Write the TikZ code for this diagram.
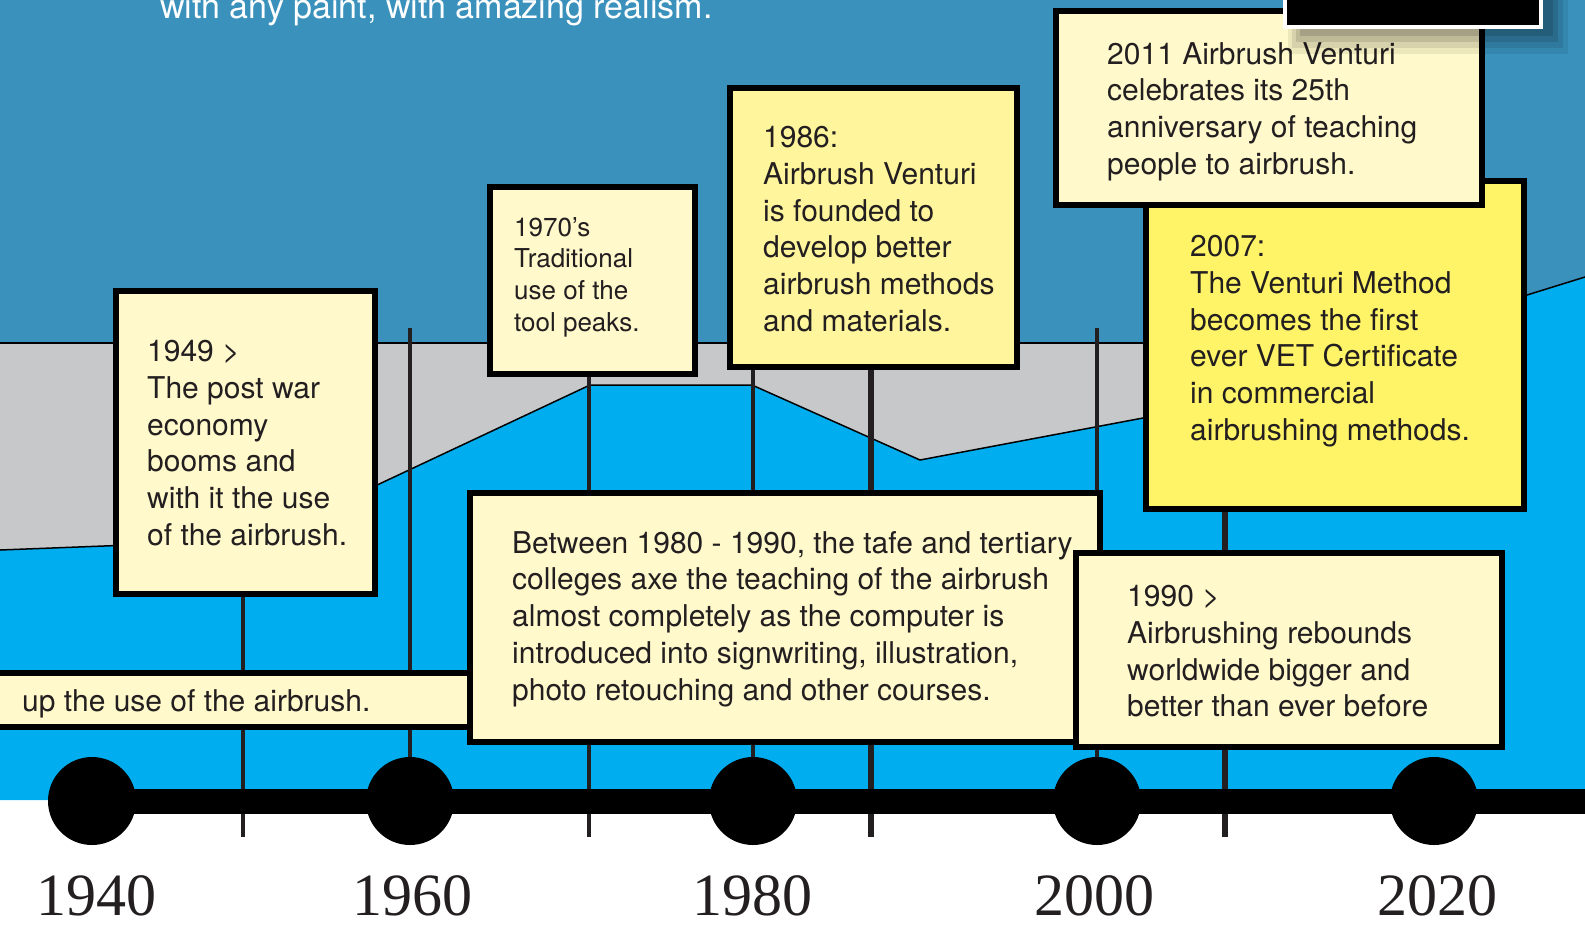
\documentclass[tikz,border=0pt]{standalone}
\usepackage{fontspec}
\setmainfont{TeX Gyre Heros}
\newfontfamily\yearfont{Liberation Serif}
\definecolor{steelbg}{HTML}{3A91BC}
\definecolor{brightblue}{HTML}{00AEEF}
\definecolor{bandgray}{HTML}{C7C8CA}
\definecolor{cream}{HTML}{FFF9CB}
\definecolor{lightyellow}{HTML}{FFF59C}
\definecolor{strongyellow}{HTML}{FFF468}
\definecolor{textdark}{HTML}{231F20}
\tikzset{
  evbox/.style={draw=black, line width=6pt, anchor=north west, inner sep=0pt, outer sep=3pt, fill=cream},
  evtext/.style={anchor=north west, inner sep=0pt, align=left, text=textdark, font=\fontsize{30}{36.8}\selectfont},
  smalltext/.style={anchor=north west, inner sep=0pt, align=left, text=textdark, font=\fontsize{26}{31.7}\selectfont},
  yearlbl/.style={anchor=base, inner sep=0pt, text=textdark, font=\yearfont\fontsize{60}{60}\selectfont},
  tick/.style={draw=textdark, line width=3.5pt},
  thicktick/.style={draw=textdark, line width=6.5pt},
  dot/.style={circle, fill=black, minimum size=88pt, inner sep=0pt},
  edge/.style={draw=black, line width=1.5pt}
}
\begin{document}
\begin{tikzpicture}[x=1pt,y=-1pt]
\useasboundingbox (0,0) rectangle (1585,930);
% backgrounds
\fill[steelbg] (0,0) rectangle (1585,800);
\fill[white] (0,800) rectangle (1585,930);
\fill[bandgray] (0,343) rectangle (1400,800);
\draw[edge] (0,343) -- (1400,343);
\fill[brightblue] (0,550) -- (260,540) -- (590,385) -- (752,385) -- (920,460) -- (1143,418) -- (1527,295) -- (1585,277) -- (1585,800) -- (0,800) -- cycle;
\draw[edge] (0,550) -- (260,540) -- (590,385) -- (752,385) -- (920,460) -- (1143,418) -- (1527,295) -- (1585,277);
% top text
\node[anchor=base west, inner sep=0pt, text=white, font=\fontsize{34}{40}\selectfont] (toptext) at (160,18) {with any paint, with amazing realism.};
% timeline coordinates
\coordinate (c1940) at (92,801);
\coordinate (c1960) at (410,801);
\coordinate (c1980) at (753,801);
\coordinate (c2000) at (1097,801);
\coordinate (c2020) at (1434,801);
\coordinate (end) at (1585,801);
% vertical lines
\coordinate (v1950t) at (243,328); \coordinate (v1950b) at (243,837);
\coordinate (v1960t) at (410,328);
\coordinate (v1970t) at (589,328); \coordinate (v1970b) at (589,837);
\coordinate (v1980t) at (753,328);
\coordinate (v1990t) at (871,328); \coordinate (v1990b) at (871,837);
\coordinate (v2000t) at (1097,328);
\coordinate (v2010t) at (1225,328); \coordinate (v2010b) at (1225,837);
\draw[tick] (v1950t) -- (v1950b);
\draw[tick] (v1960t) -- (c1960);
\draw[tick] (v1970t) -- (v1970b);
\draw[tick] (v1980t) -- (c1980);
\draw[thicktick] (v1990t) -- (v1990b);
\draw[tick] (v2000t) -- (c2000);
\draw[thicktick] (v2010t) -- (v2010b);
% boxes
\node[evbox, minimum width=490pt, minimum height=54pt] (bup) at (-20,670) {};
\node[anchor=base west, inner sep=0pt, text=textdark, font=\fontsize{30}{36.8}\selectfont] (tup) at (22,711) {up the use of the airbrush.};
\node[evbox, minimum width=259pt, minimum height=303pt] (b1949) at (113,288) {};
\node[evtext] (t1949) at (147,340) {1949 >\\The post war\\economy\\booms and\\with it the use\\of the airbrush.};
\node[evbox, minimum width=205pt, minimum height=187pt] (b1970) at (487,184) {};
\node[smalltext] (t1970) at (514,217) {1970’s\\Traditional\\use of the\\tool peaks.};
\node[evbox, fill=lightyellow, minimum width=287pt, minimum height=279pt] (b1986) at (727,85) {};
\node[evtext] (t1986) at (763,126) {1986:\\Airbrush Venturi\\is founded to\\develop better\\airbrush methods\\and materials.};
\node[evbox, minimum width=630pt, minimum height=249pt] (bbetween) at (467,490) {};
\node[evtext] (tbetween) at (512,531) {Between 1980 - 1990, the tafe and tertiary\\colleges axe the teaching of the airbrush\\almost completely as the computer is\\introduced into signwriting, illustration,\\photo retouching and other courses.};
\node[evbox, fill=strongyellow, minimum width=378pt, minimum height=328pt] (b2007) at (1143,178) {};
\node[evtext] (t2007) at (1190,235) {2007:\\The Venturi Method\\becomes the first\\ever VET Certificate\\in commercial\\airbrushing methods.};
\node[evbox, minimum width=426pt, minimum height=194pt] (b2011) at (1053,8) {};
\node[evtext] (t2011) at (1107,42) {2011 Airbrush Venturi\\celebrates its 25th\\anniversary of teaching\\people to airbrush.};
\node[evbox, minimum width=426pt, minimum height=194pt] (b1990) at (1073,550) {};
\node[evtext] (t1990) at (1127,585) {1990 >\\Airbrushing rebounds\\worldwide bigger and\\better than ever before};
% black box with shadow
\fill[black, opacity=0.07] (1288,0) rectangle (1568,54);
\fill[black, opacity=0.09] (1292,0) rectangle (1563,48);
\fill[black, opacity=0.11] (1296,0) rectangle (1558,42);
\fill[black, opacity=0.13] (1300,0) rectangle (1553,36);
\node[draw=white, line width=4pt, fill=black, anchor=north west, inner sep=0pt, outer sep=2pt, minimum width=256pt, minimum height=36pt] (topbox) at (1283,-11) {};
% timeline
\draw[line width=25pt] (c1940) -- (end);
\foreach \c in {c1940,c1960,c1980,c2000,c2020} \node[dot] (dot-\c) at (\c) {};
% years
\node[yearlbl] (y1940) at (96,915) {1940};
\node[yearlbl] (y1960) at (412,915) {1960};
\node[yearlbl] (y1980) at (752,915) {1980};
\node[yearlbl] (y2000) at (1094,915) {2000};
\node[yearlbl] (y2020) at (1437,915) {2020};
\end{tikzpicture}
\end{document}
